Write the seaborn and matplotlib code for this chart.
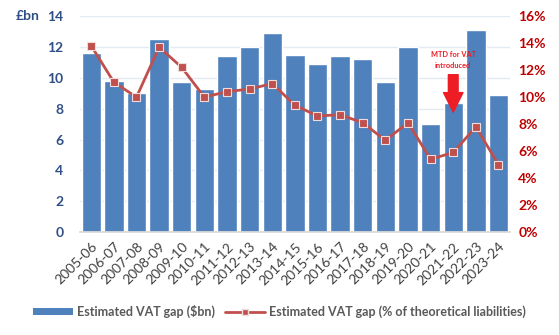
import numpy as np
import pandas as pd
import matplotlib
matplotlib.use("Agg")
import matplotlib.pyplot as plt
import seaborn as sns
from matplotlib.patches import Patch
from matplotlib.lines import Line2D

years = ["2005-06", "2006-07", "2007-08", "2008-09", "2009-10", "2010-11",
         "2011-12", "2012-13", "2013-14", "2014-15", "2015-16", "2016-17",
         "2017-18", "2018-19", "2019-20", "2020-21", "2021-22", "2022-23",
         "2023-24"]
gap_bn = [11.6, 9.8, 9.0, 12.5, 9.7, 9.3, 11.4, 12.0, 12.9, 11.5, 10.9, 11.4,
          11.2, 9.7, 12.0, 7.0, 8.4, 13.1, 8.9]
gap_pct = [13.8, 11.1, 10.0, 13.7, 12.2, 10.0, 10.4, 10.6, 11.0, 9.4, 8.6, 8.7,
           8.1, 6.8, 8.1, 5.4, 5.9, 7.8, 5.0]
left_ticks = [0, 2, 4, 6, 8, 10, 12, 14]
right_ticks = [0, 2, 4, 6, 8, 10, 12, 14, 16]

bar_label = "Estimated VAT gap ($bn)"
line_label = "Estimated VAT gap (% of theoretical liabilities)"
note_text = "MTD for VAT\nintroduced"
note_year = "2021-22"

sns.set_theme(style="white")
plt.rcParams["font.family"] = ["Lato", "DejaVu Sans"]

BAR = "#4F81BD"
LINE = "#C0504D"
NAVY = "#2F4F86"
RED = "#C00000"
ARROW = "#EE1C25"

df = pd.DataFrame({"year": years, "bn": gap_bn, "pct": gap_pct})

fig = plt.figure(figsize=(5.59, 3.35), dpi=100)
ax = fig.add_axes([0.143, 0.307, 0.769, 0.645])

sns.barplot(data=df, x="year", y="bn", color=BAR, saturation=1, width=0.86,
            ax=ax, zorder=2)
ax.set_ylim(0, 14)
ax.set_yticks(left_ticks)
ax.set_yticklabels([str(t) for t in left_ticks], color=NAVY,
                   fontweight="bold", fontsize=10)
ax.grid(axis="y", color="#E4EAF3", linewidth=1, zorder=0)
ax.set_axisbelow(True)
ax.set_xlabel("")
ax.set_ylabel("")
for s in ["top", "right", "left"]:
    ax.spines[s].set_visible(False)
ax.spines["bottom"].set_color("#D9D9D9")
ax.tick_params(axis="y", length=0, pad=12)
ax.tick_params(axis="x", length=0, pad=6)
ax.set_xticks(range(len(years)))
ax.set_xticklabels(years, rotation=45, ha="right", rotation_mode="anchor",
                   fontsize=10, color="#404040")
ax.set_xlim(-0.5, len(years) - 0.5)

ax.text(-0.095, 1.0, "£bn", transform=ax.transAxes, color=NAVY,
        fontweight="bold", fontsize=10, ha="right", va="center")

ax2 = ax.twinx()
sns.pointplot(data=df, x="year", y="pct", ax=ax2, color=LINE,
              markers="s", markersize=5.5, linewidth=2,
              markeredgecolor="#F2DCDB", markeredgewidth=0.8)
ax2.set_ylim(0, 16)
ax2.set_yticks(right_ticks)
ax2.set_yticklabels([f"{t}%" for t in right_ticks], color=RED,
                    fontweight="bold", fontsize=10)
ax2.tick_params(axis="y", length=0, pad=6)
ax2.set_xlim(-0.5, len(years) - 0.5)
ax2.set_xlabel("")
ax2.set_ylabel("")
for s in ["top", "right", "left", "bottom"]:
    ax2.spines[s].set_visible(False)
ax2.tick_params(axis="x", bottom=False, labelbottom=False)

xi = years.index(note_year)
ax.annotate("", xy=(xi, 7.78), xytext=(xi, 10.2),
            arrowprops=dict(facecolor=ARROW, edgecolor=ARROW,
                            width=7, headwidth=14, headlength=14),
            zorder=5)
ax.text(xi, 11.15, note_text, color=ARROW, fontsize=5.3, ha="center",
        va="center", fontweight="bold", linespacing=1.6)

handles = [Patch(facecolor=BAR, edgecolor="none"),
           Line2D([0], [0], color=LINE, lw=2, marker="s", markersize=5,
                  markerfacecolor=LINE, markeredgecolor="#F2DCDB")]
leg = fig.legend(handles, [bar_label, line_label], loc="center",
                 bbox_to_anchor=(0.5, 0.07), ncol=2, frameon=False,
                 fontsize=9, handlelength=3.2, handleheight=0.5,
                 columnspacing=0.8, handletextpad=0.3)
for t in leg.get_texts():
    t.set_color("#595959")
    t.set_fontweight("bold")

fig.savefig("out.png", dpi=100)
